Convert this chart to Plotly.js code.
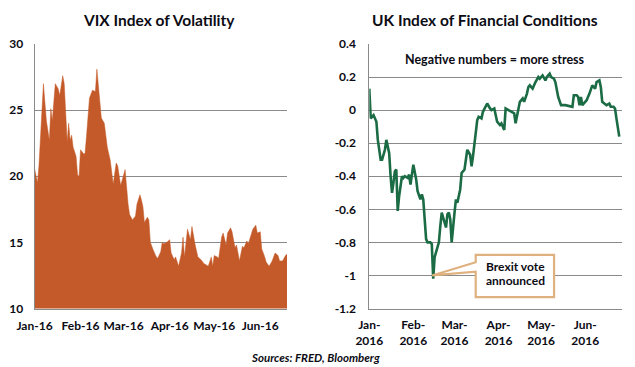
<!DOCTYPE html>
<html>
<head>
<meta charset="utf-8">
<script src="https://cdn.plot.ly/plotly-3.0.1.min.js"></script>
<style>html,body{margin:0;padding:0;background:#fff;}#chart{width:635px;height:367px;}</style>
</head>
<body>
<div id="chart"></div>
<script>
// ---- VIX Index of Volatility ----
const vixDates = ['2016-01-01','2016-01-03','2016-01-04','2016-01-07','2016-01-09','2016-01-11','2016-01-12','2016-01-13','2016-01-15','2016-01-17','2016-01-18','2016-01-20','2016-01-21','2016-01-23','2016-01-24','2016-01-25','2016-01-26','2016-01-27','2016-01-29','2016-01-30','2016-01-31',
'2016-02-01','2016-02-03','2016-02-04','2016-02-05','2016-02-07','2016-02-09','2016-02-11','2016-02-12','2016-02-14','2016-02-15','2016-02-17','2016-02-19','2016-02-21','2016-02-22','2016-02-23','2016-02-25','2016-02-26','2016-02-28',
'2016-03-01','2016-03-02','2016-03-04','2016-03-05','2016-03-07','2016-03-09','2016-03-10','2016-03-12','2016-03-13','2016-03-14','2016-03-15','2016-03-17','2016-03-18','2016-03-19','2016-03-21','2016-03-23','2016-03-24','2016-03-26','2016-03-27','2016-03-28','2016-03-30',
'2016-04-01','2016-04-02','2016-04-04','2016-04-05','2016-04-07','2016-04-09','2016-04-10','2016-04-11','2016-04-13','2016-04-15','2016-04-16','2016-04-18','2016-04-20','2016-04-22','2016-04-24','2016-04-27','2016-04-29','2016-04-30',
'2016-05-01','2016-05-03','2016-05-04','2016-05-06','2016-05-07','2016-05-09','2016-05-10','2016-05-12','2016-05-13','2016-05-15','2016-05-16','2016-05-18','2016-05-20','2016-05-21','2016-05-23','2016-05-24','2016-05-26','2016-05-27','2016-05-29','2016-05-30',
'2016-06-01','2016-06-02','2016-06-04','2016-06-05','2016-06-07','2016-06-09','2016-06-11','2016-06-13','2016-06-14','2016-06-16','2016-06-18','2016-06-19'];
const vixValues = [20.6,19.5,20.8,27.0,24.2,22.7,25.1,24.2,27.0,26.6,26.1,27.6,27.0,22.6,24.0,22.7,23.1,22.2,21.5,20.1,20.0,
22.0,21.7,21.7,23.0,25.9,26.5,26.4,28.1,25.3,24.4,24.0,22.2,21.2,20.2,19.4,21.0,20.8,19.3,
20.2,20.5,17.9,17.1,16.7,17.0,17.9,18.6,18.2,17.7,16.5,16.9,16.7,15.0,14.4,13.9,13.8,14.3,15.0,14.9,15.0,
15.2,14.2,13.7,13.9,13.2,14.2,15.4,13.9,16.0,15.2,16.2,14.9,13.9,13.7,13.4,13.2,13.9,13.2,
14.0,13.9,13.8,15.4,15.7,14.8,15.7,16.1,15.8,14.6,14.8,13.6,14.7,14.6,15.1,14.9,15.6,16.0,
16.3,15.7,15.8,14.5,13.9,13.5,13.2,13.6,14.2,14.0,13.6,13.6,14.0,14.1];

// ---- UK Index of Financial Conditions ----
const ukDates = ['2016-01-01','2016-01-02','2016-01-04','2016-01-05','2016-01-06','2016-01-07','2016-01-09','2016-01-10','2016-01-12','2016-01-13','2016-01-15','2016-01-16','2016-01-17','2016-01-18','2016-01-19','2016-01-20','2016-01-21','2016-01-22','2016-01-24','2016-01-25','2016-01-26','2016-01-28','2016-01-29','2016-01-30','2016-01-31',
'2016-02-01','2016-02-03','2016-02-04','2016-02-06','2016-02-07','2016-02-08','2016-02-09','2016-02-10','2016-02-11','2016-02-13','2016-02-14','2016-02-15','2016-02-16','2016-02-18','2016-02-19','2016-02-20','2016-02-21','2016-02-22','2016-02-24','2016-02-25','2016-02-26','2016-02-27','2016-02-28',
'2016-03-01','2016-03-02','2016-03-03','2016-03-05','2016-03-06','2016-03-08','2016-03-09','2016-03-10','2016-03-12','2016-03-13','2016-03-14','2016-03-15','2016-03-17','2016-03-18','2016-03-20','2016-03-21','2016-03-23','2016-03-24','2016-03-26','2016-03-27','2016-03-29','2016-03-31',
'2016-04-02','2016-04-03','2016-04-05','2016-04-06','2016-04-08','2016-04-10','2016-04-12','2016-04-13','2016-04-15','2016-04-16','2016-04-18','2016-04-19','2016-04-21','2016-04-22','2016-04-23','2016-04-25','2016-04-27','2016-04-29','2016-04-30',
'2016-05-02','2016-05-04','2016-05-05','2016-05-07','2016-05-08','2016-05-10','2016-05-11','2016-05-13','2016-05-15','2016-05-18','2016-05-23','2016-05-24','2016-05-26','2016-05-27','2016-05-28','2016-05-29','2016-05-30',
'2016-06-01','2016-06-02','2016-06-04','2016-06-05','2016-06-06','2016-06-08','2016-06-09','2016-06-11','2016-06-12','2016-06-13','2016-06-15','2016-06-16','2016-06-18','2016-06-19','2016-06-21','2016-06-22','2016-06-23','2016-06-24','2016-06-25'];
const ukValues = [0.13,-0.05,-0.03,-0.05,-0.07,-0.18,-0.30,-0.30,-0.24,-0.18,-0.26,-0.40,-0.50,-0.44,-0.37,-0.36,-0.61,-0.52,-0.40,-0.41,-0.40,-0.41,-0.39,-0.45,-0.39,
-0.33,-0.42,-0.49,-0.54,-0.51,-0.54,-0.66,-0.78,-0.80,-0.80,-0.81,-1.02,-0.89,-0.82,-0.80,-0.70,-0.62,-0.65,-0.71,-0.63,-0.62,-0.66,-0.80,
-0.62,-0.54,-0.56,-0.48,-0.38,-0.36,-0.30,-0.24,-0.27,-0.34,-0.28,-0.20,-0.06,-0.04,-0.05,-0.01,0.03,0.04,0.01,0.00,0.01,-0.07,
-0.09,-0.08,-0.12,0.01,0.00,-0.01,-0.02,-0.08,0.00,0.05,0.07,0.05,0.10,0.14,0.15,0.13,0.17,0.20,0.19,
0.21,0.18,0.20,0.22,0.20,0.19,0.17,0.08,0.03,0.03,0.02,0.09,0.09,0.08,0.03,0.08,0.03,
0.05,0.06,0.10,0.12,0.15,0.13,0.17,0.18,0.14,0.05,0.04,0.03,0.04,0.02,0.02,0.01,-0.05,-0.11,-0.16];

// ---- Tick labels ----
const monthTicks = ['2016-01-01','2016-02-01','2016-03-01','2016-04-01','2016-05-01','2016-06-01'];
const vixTickText = ['Jan-16','Feb-16','Mar-16','Apr-16','May-16','Jun-16'];
const ukTickText = ['Jan-<br>2016','Feb-<br>2016','Mar-<br>2016','Apr-<br>2016','May-<br>2016','Jun-<br>2016'];
const ukYTicks = [0.4,0.2,0,-0.2,-0.4,-0.6,-0.8,-1,-1.2];
const ukYText = ['0.4','0.2','0','-0.2','-0.4','-0.6','-0.8','-1','-1.2'];

const FONT = 'Lato, "DejaVu Sans", sans-serif';
const TXT = '#0b0b14';
const GRID = '#8a8a8a';
const W = 635, H = 367;
const px = v => v / W;
const py = v => 1 - v / H;

const traces = [
  {x: vixDates, y: vixValues, type: 'scatter', mode: 'lines', fill: 'tozeroy',
   fillcolor: '#C45A29', line: {color: '#C45A29', width: 0.5}, xaxis: 'x', yaxis: 'y', hoverinfo: 'skip'},
  {x: ukDates, y: ukValues, type: 'scatter', mode: 'lines',
   line: {color: '#1B6B45', width: 2.6}, xaxis: 'x2', yaxis: 'y2', hoverinfo: 'skip'}
];

const tickFont = {family: FONT, size: 12, color: TXT, weight: 'bold'};

const layout = {
  width: W, height: H,
  margin: {l: 0, r: 0, t: 0, b: 0},
  paper_bgcolor: '#ffffff', plot_bgcolor: '#ffffff',
  showlegend: false,
  font: {family: FONT, color: TXT},
  xaxis: {
    domain: [px(34.5), px(287)], anchor: 'y', type: 'date',
    range: ['2016-01-01', '2016-06-19'],
    tickvals: monthTicks, ticktext: vixTickText, tickfont: tickFont,
    showgrid: false, zeroline: false, showline: true, linecolor: GRID, linewidth: 1,
    ticks: '', ticklabelstandoff: 6, fixedrange: true
  },
  yaxis: {
    domain: [py(308.5), py(44)], anchor: 'x',
    range: [10, 30], tickvals: [10, 15, 20, 25, 30], ticktext: ['10','15','20','25','30'],
    tickfont: tickFont, showgrid: true, gridcolor: GRID, gridwidth: 1,
    zeroline: false, showline: true, linecolor: GRID, linewidth: 1,
    ticks: '', ticklabelstandoff: 8, fixedrange: true
  },
  xaxis2: {
    domain: [px(369.3), px(621.7)], anchor: 'y2', type: 'date',
    range: ['2016-01-01', '2016-06-26 17:00'],
    tickvals: monthTicks, ticktext: ukTickText, tickfont: tickFont,
    showgrid: false, zeroline: false, showline: true, linecolor: GRID, linewidth: 1,
    ticks: '', ticklabelstandoff: 5, fixedrange: true
  },
  yaxis2: {
    domain: [py(308.5), py(44)], anchor: 'x2',
    range: [-1.2, 0.4], tickvals: ukYTicks, ticktext: ukYText,
    tickfont: tickFont, showgrid: true, gridcolor: GRID, gridwidth: 1,
    zeroline: false, showline: true, linecolor: GRID, linewidth: 1,
    ticks: '', ticklabelstandoff: 10, fixedrange: true
  },
  shapes: [
    {type: 'path', xref: 'x2', yref: 'y2', layer: 'above',
     path: 'M2016-02-14_06:00,-1.0 L2016-03-15_22:00,-0.92 L2016-03-15_22:00,-0.876 L2016-05-10_02:00,-0.876 L2016-05-10_02:00,-1.131 L2016-03-15_22:00,-1.131 L2016-03-15_22:00,-0.977 Z',
     fillcolor: '#ffffff', line: {color: '#DFB17F', width: 2.2}}
  ],
  annotations: [
    {xref: 'paper', yref: 'paper', x: px(159), y: py(20), xanchor: 'center', yanchor: 'middle',
     text: 'VIX Index of Volatility', showarrow: false, font: {family: FONT, size: 15.5, color: TXT, weight: 'bold'}},
    {xref: 'paper', yref: 'paper', x: px(485), y: py(20), xanchor: 'center', yanchor: 'middle',
     text: 'UK Index of Financial Conditions', showarrow: false, font: {family: FONT, size: 15.5, color: TXT, weight: 'bold'}},
    {xref: 'paper', yref: 'paper', x: px(495), y: py(59), xanchor: 'center', yanchor: 'middle',
     text: 'Negative numbers = more stress', showarrow: false, font: {family: FONT, size: 12.5, color: TXT, weight: 'bold'}},
    {xref: 'paper', yref: 'paper', x: px(483.5), y: py(266.5), xanchor: 'left', yanchor: 'middle',
     text: 'Brexit vote', showarrow: false, font: {family: FONT, size: 12, color: TXT, weight: 'bold'}},
    {xref: 'paper', yref: 'paper', x: px(483.5), y: py(280), xanchor: 'left', yanchor: 'middle',
     text: 'announced', showarrow: false, font: {family: FONT, size: 12, color: TXT, weight: 'bold'}},
    {xref: 'paper', yref: 'paper', x: px(315), y: py(357), xanchor: 'center', yanchor: 'middle',
     text: '<i>Sources: FRED, Bloomberg</i>', showarrow: false, font: {family: FONT, size: 11.5, color: TXT, weight: 'bold'}}
  ]
};

Plotly.newPlot('chart', traces, layout, {displayModeBar: false, staticPlot: true});
</script>
</body>
</html>
